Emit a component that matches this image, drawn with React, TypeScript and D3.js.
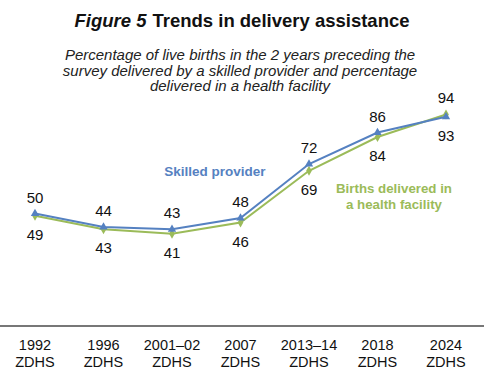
import React from "react";
import * as d3 from "d3";

const categories = ["1992|ZDHS", "1996|ZDHS", "2001–02|ZDHS", "2007|ZDHS", "2013–14|ZDHS", "2018|ZDHS", "2024|ZDHS"];
const skilled = [50, 44, 43, 48, 72, 86, 93];
const facility = [49, 43, 41, 46, 69, 84, 94];

const W = 484, H = 378;
const BLUE = "#5581C1";
const GREEN = "#9BBB59";
const FONT = "Arial, 'Liberation Sans', sans-serif";

export default function App() {
  const x = d3.scalePoint<string>().domain(categories).range([35, 446]);
  const y = d3.scaleLinear().domain([0, 100]).range([326, 101]);
  const line = d3.line<number>().x((_, i) => x(categories[i])!).y((d) => y(d));
  const tri = d3.symbol().type(d3.symbolTriangle).size(30)()!;
  const dia = d3.symbol().type(d3.symbolDiamond).size(28)()!;
  const last = categories.length - 1;
  return (
    <svg width={W} height={H} style={{ position: "absolute", left: 0, top: 0, background: "#fff" }} fontFamily={FONT}>
      <text x={242} y={27} textAnchor="middle" fontSize={18.5} fontWeight="bold" fill="#111">
        <tspan fontStyle="italic">Figure 5</tspan>
        <tspan dx={6}>Trends in delivery assistance</tspan>
      </text>
      {["Percentage of live births in the 2 years preceding the", "survey delivered by a skilled provider and percentage", "delivered in a health facility"].map((t, i) => (
        <text key={i} x={240} y={60 + i * 15.5} textAnchor="middle" fontSize={15} fontStyle="italic" fill="#222">{t}</text>
      ))}
      <line x1={0} x2={W} y1={326} y2={326} stroke="#777" strokeWidth={2} />
      {categories.map((c) => {
        const [a, b] = c.split("|");
        return (
          <text key={c} x={x(c)} y={350} textAnchor="middle" fontSize={14.5} fill="#111">
            <tspan x={x(c)}>{a}</tspan>
            <tspan x={x(c)} dy={17}>{b}</tspan>
          </text>
        );
      })}
      <path d={line(facility)!} fill="none" stroke={GREEN} strokeWidth={2} />
      <path d={line(skilled)!} fill="none" stroke={BLUE} strokeWidth={2} />
      {facility.map((v, i) => (
        <path key={"f" + i} d={dia} transform={`translate(${x(categories[i])},${y(v)})`} fill={GREEN} />
      ))}
      {skilled.map((v, i) => (
        <path key={"s" + i} d={tri} transform={`translate(${x(categories[i])},${y(v)})`} fill={BLUE} />
      ))}
      {skilled.map((v, i) => (
        <text key={"ls" + i} x={x(categories[i])} y={i === last ? y(v) + 24 : y(v) - 11} textAnchor="middle" fontSize={15} fill="#111">{v}</text>
      ))}
      {facility.map((v, i) => (
        <text key={"lf" + i} x={x(categories[i])} y={i === last ? y(v) - 12 : y(v) + 24} textAnchor="middle" fontSize={15} fill="#111">{v}</text>
      ))}
      <text x={215} y={176} textAnchor="middle" fontSize={13.5} fontWeight="bold" fill={BLUE}>Skilled provider</text>
      <text x={394} y={193} textAnchor="middle" fontSize={13.3} fontWeight="bold" fill={GREEN}>
        <tspan x={394}>Births delivered in</tspan>
        <tspan x={394} dy={15.5}>a health facility</tspan>
      </text>
    </svg>
  );
}
